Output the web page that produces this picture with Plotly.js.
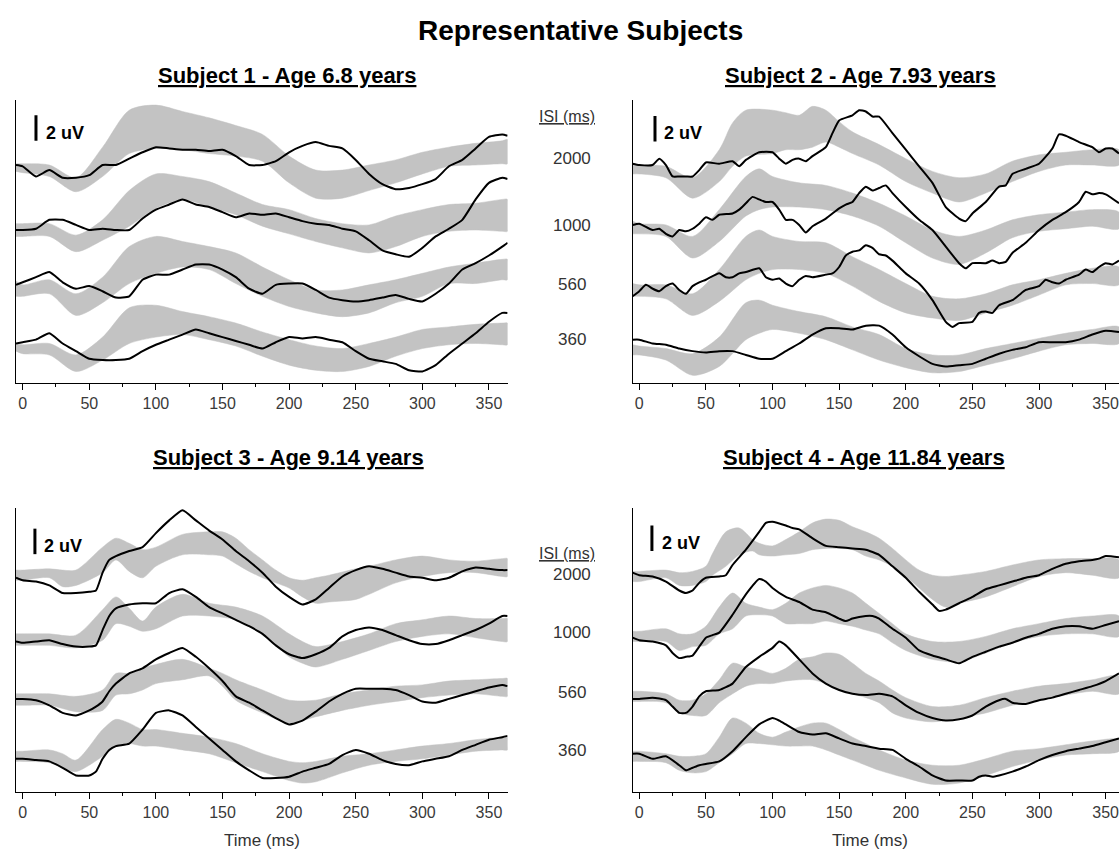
<!DOCTYPE html>
<html><head><meta charset="utf-8">
<script src="https://cdn.plot.ly/plotly-3.0.1.min.js"></script>
<style>html,body{margin:0;padding:0;background:#fff}#chart{width:1119px;height:849px}</style>
</head><body><div id="chart"></div>
<script>
// ---------- DATA (µV, stacked; time in ms) ----------
const ISI = ['2000', '1000', '560', '360'];
const SUBJECTS = ['Subject 1 - Age 6.8 years', 'Subject 2 - Age 7.93 years', 'Subject 3 - Age 9.14 years', 'Subject 4 - Age 11.84 years'];
const SCALE_UV = 2;
const XTICKS = [0, 50, 100, 150, 200, 250, 300, 350];

// Subject 1
const s1_t = [-5,0,10,20,30,40,50,60,70,80,90,100,110,120,130,140,150,160,170,180,190,200,210,220,230,240,250,260,270,280,290,300,310,320,330,340,350,360,364];
const s1_line_2000 = [17.1,17.0,16.2,16.7,16.1,16.1,16.3,17.1,17.1,17.6,18.1,18.5,18.4,18.3,18.3,18.2,18.3,17.8,17.1,17.1,17.4,18.1,18.6,18.9,18.6,18.4,17.5,16.4,15.6,15.2,15.3,15.6,16.0,17.0,17.5,18.4,19.3,19.5,19.4];
const s1_line_1000 = [12.0,12.0,12.1,12.8,12.8,12.4,12.0,12.1,12.0,12.0,12.9,13.6,14.0,14.4,14.0,13.8,13.4,13.0,13.3,13.2,13.3,13.0,12.7,12.5,12.4,12.1,11.9,11.2,10.4,10.1,9.9,10.6,11.5,12.1,12.8,14.4,15.7,16.1,16.0];
const s1_line_560 = [7.7,7.9,8.3,8.7,7.9,7.4,7.6,7.2,6.7,6.8,8.1,8.5,8.5,8.9,9.3,9.3,8.9,8.3,7.4,7.0,7.7,7.8,7.8,7.3,6.7,6.5,6.4,6.5,6.7,6.9,6.6,6.4,7.0,7.8,8.9,9.4,10.0,10.7,11.0];
const s1_line_360 = [3.1,3.2,3.4,3.9,3.1,2.5,1.9,1.8,1.8,1.9,2.5,3.0,3.4,3.8,4.2,3.9,3.6,3.3,3.0,2.7,3.2,3.6,3.5,3.6,3.4,3.2,2.5,1.9,1.7,1.5,1.0,0.9,1.4,2.3,3.1,3.9,4.8,5.5,5.5];
const s1_bt = [-5,0,20,40,60,80,100,120,140,160,180,200,220,240,260,280,300,320,340,360,364];
const s1_hi_2000 = [17.2,17.2,17.1,16.1,18.5,21.4,21.8,21.3,20.8,20.2,19.5,17.8,16.7,16.7,17.1,17.5,18.1,18.5,18.8,19.0,19.1];
const s1_lo_2000 = [16.6,16.5,16.2,15.0,16.2,18.0,18.4,18.3,18.0,17.8,17.4,15.7,14.5,14.5,15.1,15.7,16.4,17.0,17.1,17.2,17.2];
const s1_hi_1000 = [12.5,12.5,12.5,11.6,12.8,15.1,16.4,16.2,15.8,14.9,14.0,13.6,12.9,12.5,12.4,13.1,13.6,14.0,14.1,14.4,14.4];
const s1_lo_1000 = [11.5,11.5,11.5,10.3,11.2,12.3,13.7,14.4,13.8,13.2,12.3,11.7,11.1,10.6,10.2,10.7,11.5,11.9,12.0,11.9,11.9];
const s1_hi_560 = [8.0,7.7,8.1,7.0,8.3,10.7,11.5,11.1,10.7,10.2,9.1,8.1,7.3,7.3,7.7,8.1,8.6,9.1,9.4,9.7,9.7];
const s1_lo_560 = [6.8,6.8,7.0,5.3,6.3,7.8,8.6,9.1,8.9,7.8,6.8,6.0,5.5,5.2,5.5,6.3,6.8,7.8,7.8,8.1,8.1];
const s1_hi_360 = [3.1,3.0,3.1,2.2,3.6,5.9,6.1,5.6,5.2,4.7,4.0,3.4,2.9,2.7,3.1,3.6,4.2,4.4,4.6,4.7,4.7];
const s1_lo_360 = [2.5,2.3,2.2,0.9,1.8,3.1,3.6,3.8,3.4,2.9,2.1,1.4,1.0,0.9,1.3,2.1,2.7,3.0,3.1,3.0,3.0];

// Subject 2
const s2_t_2000 = [-5,0,10,15,20,25,30,35,40,45,50,60,70,75,80,90,100,105,110,115,120,125,130,140,145,150,160,165,170,175,180,190,200,210,220,230,240,245,250,260,270,275,280,290,300,310,315,320,330,340,345,350,355,360];
const s2_line_2000 = [17.2,17.1,17.1,17.6,17.1,16.2,16.2,16.2,16.2,16.7,17.3,17.2,17.4,17.0,17.5,18.1,18.1,17.6,17.2,17.5,17.6,17.4,17.8,18.5,19.6,20.6,21.0,21.4,21.3,20.9,20.9,19.6,18.3,17.0,15.7,13.8,12.9,12.7,13.3,14.2,15.4,15.5,16.4,16.8,17.2,18.4,19.5,19.4,18.9,18.5,18.1,18.4,18.4,18.0];
const s2_t_1000 = [-5,0,10,15,20,25,30,35,40,45,50,55,60,70,75,80,85,90,95,100,105,110,115,120,125,130,140,150,155,160,165,170,175,180,185,190,200,210,220,230,240,245,250,260,265,270,275,280,290,300,310,320,330,335,340,345,350,360];
const s2_line_1000 = [12.4,12.5,12.0,12.1,11.7,11.5,12.0,11.9,12.1,12.5,13.0,12.8,13.2,13.3,13.6,14.1,14.6,14.4,14.2,14.2,13.6,12.8,12.8,12.4,11.8,12.3,12.9,13.7,14.0,14.2,14.9,15.4,15.1,15.3,15.5,14.9,13.8,12.8,12.0,10.7,9.4,9.0,9.4,9.4,9.6,9.4,9.5,10.2,11.0,12.0,12.8,13.4,14.2,15.0,14.8,14.9,14.8,14.1];
const s2_t_560 = [-5,0,5,10,15,20,25,30,35,40,45,50,60,65,70,75,80,90,95,100,105,110,115,120,125,130,140,145,150,155,160,165,170,175,180,185,190,195,200,210,220,230,235,240,250,255,260,265,270,280,285,290,300,305,310,315,320,330,335,340,345,350,355,360];
const s2_line_560 = [6.8,7.2,7.7,7.4,7.2,7.6,7.8,7.3,7.0,7.6,7.9,8.1,8.6,8.3,8.3,8.6,8.7,9.0,8.3,8.1,8.2,7.8,7.6,8.1,8.4,8.3,8.5,8.6,9.1,10.0,10.3,10.4,10.8,10.6,10.1,10.0,9.6,9.1,8.6,7.8,6.5,4.8,4.4,4.7,4.8,5.5,5.6,5.5,6.1,6.5,6.9,7.3,7.6,8.1,7.9,7.8,8.1,8.5,8.9,8.7,9.1,9.4,9.3,9.6];
const s2_t_360 = [-5,0,10,20,30,40,50,60,70,80,90,100,110,120,130,140,150,160,170,180,190,200,210,220,230,240,250,260,270,280,290,300,310,320,330,340,350,360];
const s2_line_360 = [3.4,3.4,3.1,3.0,2.7,2.5,2.4,2.5,2.5,2.2,1.9,1.9,2.5,3.1,3.8,4.3,4.3,4.2,4.5,4.5,3.8,2.8,2.1,1.5,1.3,1.4,1.5,1.9,2.3,2.6,2.8,3.2,3.2,3.2,3.4,3.8,4.1,4.0];
const s2_bt_2000 = [-5,0,20,40,60,70,80,100,110,120,130,140,150,160,180,200,220,240,260,280,300,320,340,360];
const s2_hi_2000 = [17.2,17.1,17.0,16.1,18.3,20.4,21.4,21.4,21.2,21.0,21.7,21.4,20.5,19.7,18.7,17.6,16.6,16.1,16.4,17.4,17.9,18.1,18.3,18.3];
const s2_lo_2000 = [16.4,16.4,16.1,14.5,15.8,17.0,17.8,18.0,18.3,18.3,18.5,18.9,18.5,18.0,17.1,15.8,14.9,14.2,14.9,15.8,16.6,17.1,17.1,17.1];
const s2_bt = [-5,0,20,40,60,80,90,100,120,140,160,180,200,220,240,260,280,300,320,340,360];
const s2_hi_1000 = [12.7,12.5,12.4,11.5,13.6,16.2,16.8,16.2,15.7,15.5,14.9,14.1,13.1,12.0,11.5,12.0,12.8,13.2,13.4,13.6,13.4];
const s2_lo_1000 = [11.7,11.7,11.5,9.8,11.1,13.1,13.6,13.8,13.8,13.6,13.1,12.3,11.0,9.8,9.3,10.2,11.4,11.9,12.1,12.3,12.1];
const s2_hi_560 = [7.8,7.7,7.7,7.0,8.9,11.5,12.0,11.5,11.1,11.0,9.9,8.9,7.8,6.8,6.6,7.0,7.7,8.1,8.6,9.0,9.1];
const s2_lo_560 = [6.8,6.8,6.6,5.3,6.4,8.1,8.6,8.9,8.9,8.6,7.6,6.4,5.5,5.1,4.9,5.5,6.1,6.9,7.7,7.8,7.7];
const s2_hi_360 = [3.0,2.9,2.7,2.3,3.6,6.3,6.5,6.1,5.6,5.2,4.4,3.8,2.7,2.2,2.2,2.7,3.1,3.5,3.9,4.2,4.4];
const s2_lo_360 = [2.2,2.2,1.8,0.6,1.3,3.4,3.9,4.2,3.9,3.4,2.6,1.8,1.2,0.8,0.9,1.4,1.9,2.5,3.0,3.1,3.1];

// Subject 3
const s3_t = [-5,0,10,20,30,40,50,55,60,65,70,80,90,100,110,120,130,140,150,160,170,180,190,200,210,220,230,240,250,260,270,280,290,300,310,320,330,340,350,360,364];
const s3_line_2000 = [16.8,16.6,16.5,16.2,15.6,15.6,15.7,15.8,17.2,18.2,18.5,18.9,19.2,20.3,21.3,22.1,21.3,20.5,19.8,18.9,18.1,17.2,16.1,15.3,14.7,15.1,16.0,16.9,17.4,17.7,17.5,17.2,16.9,16.8,16.6,16.8,17.3,17.6,17.5,17.4,17.4];
const s3_line_1000 = [11.8,11.7,11.8,11.9,11.6,11.4,11.4,11.5,12.7,13.8,14.4,14.7,14.8,14.8,15.6,15.9,15.3,14.5,14.0,13.5,13.0,12.4,11.5,10.8,10.5,10.8,11.3,12.2,12.7,12.9,12.7,12.3,11.9,11.6,11.6,11.9,12.3,12.7,13.2,13.8,13.8];
const s3_line_560 = [7.3,7.3,7.2,6.8,6.2,6.0,6.4,6.7,7.1,7.9,8.5,9.3,9.7,10.4,10.9,11.3,10.6,9.7,8.7,7.5,7.0,6.4,5.8,5.3,5.6,6.3,7.1,7.7,8.1,8.1,8.1,8.0,7.6,7.1,7.0,7.3,7.6,7.9,8.2,8.4,8.3];
const s3_line_360 = [2.6,2.6,2.5,2.4,1.9,1.3,1.3,1.6,2.6,3.3,3.6,3.8,4.9,6.2,6.4,6.0,5.1,4.2,3.3,2.4,1.7,1.1,1.1,1.2,1.6,1.9,2.2,2.9,3.3,3.0,2.5,2.2,2.1,2.4,2.6,2.8,3.3,3.7,4.1,4.3,4.4];
const s3_bt_2000 = [-5,0,20,30,40,60,70,80,90,100,120,140,150,160,170,180,190,200,210,220,230,250,260,280,300,320,340,360,364];
const s3_hi_2000 = [17.4,17.4,17.5,17.4,17.4,19.2,19.9,19.5,19.0,19.2,20.2,20.4,20.4,19.9,19.0,18.2,17.4,16.8,16.6,16.8,17.0,17.5,17.7,18.2,18.5,18.2,18.1,18.3,18.3];
const s3_lo_2000 = [16.6,16.6,16.8,16.1,16.2,17.2,18.2,17.3,16.8,17.7,18.6,18.6,18.5,17.9,17.3,16.8,16.4,16.0,15.3,14.8,14.9,15.1,15.5,16.4,16.9,17.2,17.2,16.9,16.9];
const s3_bt_1000 = [-5,0,20,40,60,70,80,90,100,120,140,160,180,200,210,220,240,260,280,300,320,340,360,364];
const s3_hi_1000 = [12.4,12.4,12.4,12.3,14.3,15.3,14.4,13.4,14.5,15.5,14.8,14.5,13.8,12.4,11.8,11.4,11.8,12.4,13.2,13.5,13.8,13.6,13.6,13.6];
const s3_lo_1000 = [11.5,11.5,11.5,11.3,11.9,13.2,13.0,12.6,12.8,13.8,13.8,13.5,12.4,10.6,10.1,9.8,10.4,11.1,11.8,12.2,12.4,12.1,11.8,11.8];
const s3_bt_560 = [-5,0,20,40,60,70,80,90,100,120,140,150,160,180,200,220,240,260,280,300,320,340,360,364];
const s3_hi_560 = [7.7,7.7,7.7,7.5,8.0,9.3,9.3,9.7,10.0,10.4,9.7,9.3,8.8,8.0,7.2,7.2,7.7,8.0,8.3,8.4,8.7,8.8,8.9,8.9];
const s3_lo_560 = [6.8,6.8,6.8,6.3,6.4,7.6,7.7,8.0,8.5,8.8,9.1,8.3,7.2,6.2,5.4,5.9,6.4,6.8,7.1,7.4,7.6,7.7,7.5,7.5];
const s3_bt_360 = [-5,0,20,30,40,60,70,80,90,100,120,140,160,180,200,210,220,240,260,280,300,320,340,360,364];
const s3_hi_360 = [3.2,3.2,3.3,3.0,2.5,4.9,5.7,5.4,4.9,4.9,4.6,4.3,3.8,3.0,2.4,2.3,2.4,2.8,3.0,3.3,3.6,3.8,4.1,4.3,4.3];
const s3_lo_360 = [2.4,2.4,2.3,1.9,1.6,2.8,3.6,3.8,3.6,3.6,3.3,3.0,2.3,1.6,0.9,0.7,0.8,1.5,2.1,2.4,2.6,2.9,3.2,3.3,3.3];

// Subject 4
const s4_t_2000 = [-5,0,10,20,30,35,40,45,50,60,65,70,80,90,95,100,110,115,120,130,140,150,160,170,180,190,200,210,220,225,230,240,250,260,270,280,290,300,310,320,330,340,345,350,360];
const s4_line_2000 = [17.2,17.0,16.9,16.5,15.8,15.6,15.8,16.4,16.8,16.9,17.0,17.8,19.0,20.4,21.1,21.2,20.9,20.7,20.6,19.9,19.3,19.2,19.1,19.0,18.6,17.7,16.8,15.7,14.7,14.2,14.3,14.8,15.3,15.9,16.2,16.5,16.8,17.0,17.5,17.9,18.1,18.2,18.3,18.5,18.4];
const s4_t_1000 = [-5,0,10,20,25,30,35,40,45,50,55,60,70,80,90,95,100,110,120,130,140,150,155,160,170,175,180,190,200,210,220,230,240,250,260,270,280,290,300,310,320,330,340,350,360];
const s4_line_1000 = [12.1,11.9,11.8,11.5,10.9,10.5,10.6,10.7,11.4,12.1,12.3,12.5,13.9,15.5,16.7,16.5,16.0,15.3,14.9,14.3,14.1,13.6,13.4,13.6,13.8,13.8,13.6,12.8,12.1,11.1,10.7,10.4,10.1,10.6,11.0,11.4,11.7,12.1,12.4,12.8,13.0,13.0,12.8,13.1,13.4];
const s4_t_560 = [-5,0,10,20,25,30,35,40,45,50,60,70,80,90,100,105,110,120,130,140,150,160,170,180,190,200,210,220,230,240,250,260,270,275,280,290,300,310,320,330,340,350,360];
const s4_line_560 = [7.3,7.3,7.4,7.2,6.7,6.2,6.2,6.7,7.5,7.9,8.0,8.5,9.8,10.6,11.3,11.8,11.5,10.4,9.3,8.5,8.0,7.7,7.6,7.7,7.5,6.8,6.2,5.8,5.6,5.7,6.0,6.7,7.2,7.3,7.0,6.9,7.2,7.4,7.7,8.0,8.3,8.7,9.3];
const s4_t_360 = [-5,0,10,20,30,35,40,45,50,60,70,80,90,100,105,110,120,130,140,150,160,170,180,190,200,210,220,230,240,250,255,260,265,270,280,290,300,310,320,330,340,350,360];
const s4_line_360 = [3.0,3.0,2.6,2.8,2.1,1.7,1.9,2.1,2.2,2.4,3.2,4.3,5.3,5.8,5.6,5.3,4.7,4.5,4.6,4.2,3.8,3.6,3.4,3.3,2.6,2.0,1.3,0.9,0.9,0.9,1.2,1.3,1.2,1.3,1.6,2.0,2.5,2.9,3.2,3.4,3.6,3.9,4.2];
const s4_bt_2000 = [-5,0,20,30,40,50,55,65,75,85,90,100,110,120,130,140,150,160,170,180,190,200,210,220,230,240,260,280,300,320,340,360];
const s4_hi_2000 = [17.3,17.3,17.4,17.2,17.3,17.7,18.7,20.4,20.7,19.8,19.5,19.3,19.8,20.4,21.1,21.4,21.3,20.8,20.4,19.9,19.1,18.2,17.4,17.0,16.9,17.0,17.3,17.8,18.2,18.3,18.3,18.2];
const s4_lo_2000 = [16.5,16.5,16.8,16.2,16.2,16.5,17.0,17.7,18.6,18.9,18.6,18.5,18.6,18.7,19.0,19.1,19.1,19.0,18.5,18.2,17.7,16.9,16.0,15.1,14.5,14.8,15.3,16.1,16.9,17.2,17.0,16.8];
const s4_bt = [-5,0,20,30,40,50,60,70,80,90,100,110,120,130,140,150,160,170,180,190,200,220,240,260,280,300,320,340,360];
const s4_hi_1000 = [12.6,12.6,12.8,12.4,12.4,13.0,14.5,15.6,14.8,14.5,14.3,14.8,15.6,16.0,16.2,16.0,15.6,14.8,14.0,13.2,12.4,11.8,11.8,12.2,12.8,13.2,13.6,13.8,13.8];
const s4_lo_1000 = [11.8,11.8,11.8,11.1,11.4,11.5,12.4,12.8,13.8,13.9,13.8,13.2,13.2,13.2,13.4,13.2,13.0,12.7,12.4,11.7,11.1,10.4,10.2,10.9,11.7,12.2,12.4,12.4,12.2];
const s4_hi_560 = [7.9,7.9,7.7,7.2,7.2,7.7,8.8,10.1,9.8,9.6,9.3,9.7,10.4,10.6,10.9,10.8,10.1,9.3,8.7,8.0,7.4,6.7,6.8,7.4,7.9,8.3,8.5,8.8,9.1];
const s4_lo_560 = [7.1,7.1,7.0,6.2,6.0,6.0,7.0,7.7,8.3,8.5,8.5,8.7,8.8,8.8,8.5,8.0,7.7,7.4,7.0,6.2,5.8,5.5,5.8,6.2,6.8,7.2,7.6,7.9,7.7];
const s4_bt_360 = [-5,0,20,30,40,50,60,70,80,90,100,110,120,130,140,150,160,170,180,200,220,240,260,280,300,320,340,360];
const s4_hi_360 = [3.2,3.2,3.0,2.8,2.8,3.0,4.3,5.8,5.4,4.6,4.3,4.7,5.1,5.4,5.4,4.9,4.3,3.8,3.3,2.5,2.1,2.1,2.6,3.2,3.4,3.7,4.0,4.1];
const s4_lo_360 = [2.4,2.4,2.3,1.7,1.5,1.6,2.3,3.0,3.8,3.8,3.7,3.6,3.6,3.6,3.3,2.9,2.5,2.1,1.7,1.1,0.6,0.7,1.3,2.0,2.5,2.9,3.0,3.2];

// ---------- BUILD ----------
const W = 1119, H = 849;
const fx = p => p / W;
const fy = p => 1 - p / H;
const FONT = 'Liberation Sans, Arial, sans-serif';
const NARROW = 'Liberation Sans Narrow, Arial Narrow, Liberation Sans, Arial, sans-serif';

const panels = [
  { ax: '', series: [
    [s1_t, s1_line_2000, s1_bt, s1_hi_2000, s1_lo_2000],
    [s1_t, s1_line_1000, s1_bt, s1_hi_1000, s1_lo_1000],
    [s1_t, s1_line_560, s1_bt, s1_hi_560, s1_lo_560],
    [s1_t, s1_line_360, s1_bt, s1_hi_360, s1_lo_360]]},
  { ax: '2', series: [
    [s2_t_2000, s2_line_2000, s2_bt_2000, s2_hi_2000, s2_lo_2000],
    [s2_t_1000, s2_line_1000, s2_bt, s2_hi_1000, s2_lo_1000],
    [s2_t_560, s2_line_560, s2_bt, s2_hi_560, s2_lo_560],
    [s2_t_360, s2_line_360, s2_bt, s2_hi_360, s2_lo_360]]},
  { ax: '3', series: [
    [s3_t, s3_line_2000, s3_bt_2000, s3_hi_2000, s3_lo_2000],
    [s3_t, s3_line_1000, s3_bt_1000, s3_hi_1000, s3_lo_1000],
    [s3_t, s3_line_560, s3_bt_560, s3_hi_560, s3_lo_560],
    [s3_t, s3_line_360, s3_bt_360, s3_hi_360, s3_lo_360]]},
  { ax: '4', series: [
    [s4_t_2000, s4_line_2000, s4_bt_2000, s4_hi_2000, s4_lo_2000],
    [s4_t_1000, s4_line_1000, s4_bt, s4_hi_1000, s4_lo_1000],
    [s4_t_560, s4_line_560, s4_bt, s4_hi_560, s4_lo_560],
    [s4_t_360, s4_line_360, s4_bt_360, s4_hi_360, s4_lo_360]]}
];

const traces = [];
panels.forEach(p => {
  const xa = 'x' + p.ax, ya = 'y' + p.ax;
  p.series.forEach((s, i) => {
    const bt = s[2], hi = s[3], lo = s[4];
    traces.push({
      x: bt.concat(bt.slice().reverse()),
      y: hi.concat(lo.slice().reverse()),
      xaxis: xa, yaxis: ya, mode: 'lines', fill: 'toself',
      fillcolor: '#c3c3c3', line: { color: '#c3c3c3', width: 0.5, shape: 'spline', smoothing: 0.8 },
      hoverinfo: 'skip', showlegend: false, name: 'ISI ' + ISI[i] + ' norm'
    });
  });
  p.series.forEach((s, i) => {
    traces.push({
      x: s[0], y: s[1], xaxis: xa, yaxis: ya, mode: 'lines',
      line: { color: '#000', width: 2, shape: 'spline', smoothing: 0.5 },
      showlegend: false, name: 'ISI ' + ISI[i]
    });
  });
});

const xCommon = {
  showline: true, linecolor: '#000', linewidth: 1, mirror: false,
  ticks: 'outside', ticklen: 6, tickwidth: 1, tickcolor: '#000',
  tickmode: 'array', tickvals: XTICKS, ticktext: XTICKS.map(String),
  ticklabeloverflow: 'allow',
  minor: { ticks: 'outside', ticklen: 3, tickwidth: 1, tickcolor: '#000', tickmode: 'array',
           tickvals: XTICKS.map(v => v + 25) },
  showgrid: false, zeroline: false, fixedrange: true,
  tickfont: { family: NARROW, size: 16, color: '#3a3a3a' }
};
const yCommon = {
  showline: true, linecolor: '#000', linewidth: 1, ticks: '', showticklabels: false,
  showgrid: false, zeroline: false, fixedrange: true
};
const dL = [fx(16), fx(507.6)], dR = [fx(632.6), 1];
const dT = [fy(383), fy(100)], dB = [fy(792), fy(508)];

const layout = {
  width: W, height: H, margin: { l: 0, r: 0, t: 0, b: 0 },
  paper_bgcolor: '#fff', plot_bgcolor: 'rgba(0,0,0,0)', showlegend: false,
  font: { family: FONT, color: '#000' },
  xaxis:  Object.assign({}, xCommon, { domain: dL, range: [-5, 364], anchor: 'y' }),
  xaxis2: Object.assign({}, xCommon, { domain: dR, range: [-5, 360], anchor: 'y2' }),
  xaxis3: Object.assign({}, xCommon, { domain: dL, range: [-5, 364], anchor: 'y3' }),
  xaxis4: Object.assign({}, xCommon, { domain: dR, range: [-5, 360], anchor: 'y4' }),
  yaxis:  Object.assign({}, yCommon, { domain: dT, range: [0, 22.2], anchor: 'x' }),
  yaxis2: Object.assign({}, yCommon, { domain: dT, range: [0, 22.2], anchor: 'x2' }),
  yaxis3: Object.assign({}, yCommon, { domain: dB, range: [0, 22.27], anchor: 'x3' }),
  yaxis4: Object.assign({}, yCommon, { domain: dB, range: [0, 22.27], anchor: 'x4' }),
  shapes: [], annotations: []
};

// scale bars (2 µV) - placement per panel
const barPos = [
  { ax: '', x: 10, y0: 19.0 }, { ax: '2', x: 11.8, y0: 18.95 },
  { ax: '3', x: 9.2, y0: 18.65 }, { ax: '4', x: 9.5, y0: 18.9 }
];
barPos.forEach(b => {
  layout.shapes.push({ type: 'line', xref: 'x' + b.ax, yref: 'y' + b.ax,
    x0: b.x, x1: b.x, y0: b.y0, y1: b.y0 + SCALE_UV, line: { color: '#000', width: 3 } });
});
const barText = [[44, 133], [662, 133], [42, 546], [660, 543]];
barText.forEach(p => layout.annotations.push({
  xref: 'paper', yref: 'paper', x: fx(p[0]), y: fy(p[1]), xanchor: 'left', yanchor: 'middle',
  text: '<b>' + SCALE_UV + ' uV</b>', showarrow: false, font: { family: FONT, size: 18, color: '#000' }
}));

// titles
layout.annotations.push({ xref: 'paper', yref: 'paper', x: fx(580), y: fy(30), xanchor: 'center', yanchor: 'middle',
  text: '<b>Representative Subjects</b>', showarrow: false, font: { family: FONT, size: 28, color: '#000' } });
const subPos = [[287, 76], [860, 76], [288, 457], [864, 457]];
SUBJECTS.forEach((s, i) => layout.annotations.push({
  xref: 'paper', yref: 'paper', x: fx(subPos[i][0]), y: fy(subPos[i][1]), xanchor: 'center', yanchor: 'middle',
  text: '<b><u>' + s + '</u></b>', showarrow: false, font: { family: FONT, size: 22, color: '#000' } }));

// ISI labels
const isiRows = [{ head: 117, ys: [158, 225, 285, 340] }, { head: 553, ys: [574, 632, 692, 750] }];
isiRows.forEach(r => {
  layout.annotations.push({ xref: 'paper', yref: 'paper', x: fx(567), y: fy(r.head), xanchor: 'center', yanchor: 'middle',
    text: '<u>ISI (ms)</u>', showarrow: false, font: { family: FONT, size: 16, color: '#333' } });
  ISI.forEach((v, i) => layout.annotations.push({ xref: 'paper', yref: 'paper', x: fx(572), y: fy(r.ys[i]),
    xanchor: 'center', yanchor: 'middle', text: v, showarrow: false, font: { family: FONT, size: 17, color: '#333' } }));
});

// x-axis titles
[[262, 840], [870, 840]].forEach(p => layout.annotations.push({ xref: 'paper', yref: 'paper', x: fx(p[0]), y: fy(p[1]),
  xanchor: 'center', yanchor: 'middle', text: 'Time (ms)', showarrow: false, font: { family: FONT, size: 17, color: '#333' } }));

Plotly.newPlot('chart', traces, layout, { staticPlot: true, displayModeBar: false });
</script></body></html>
